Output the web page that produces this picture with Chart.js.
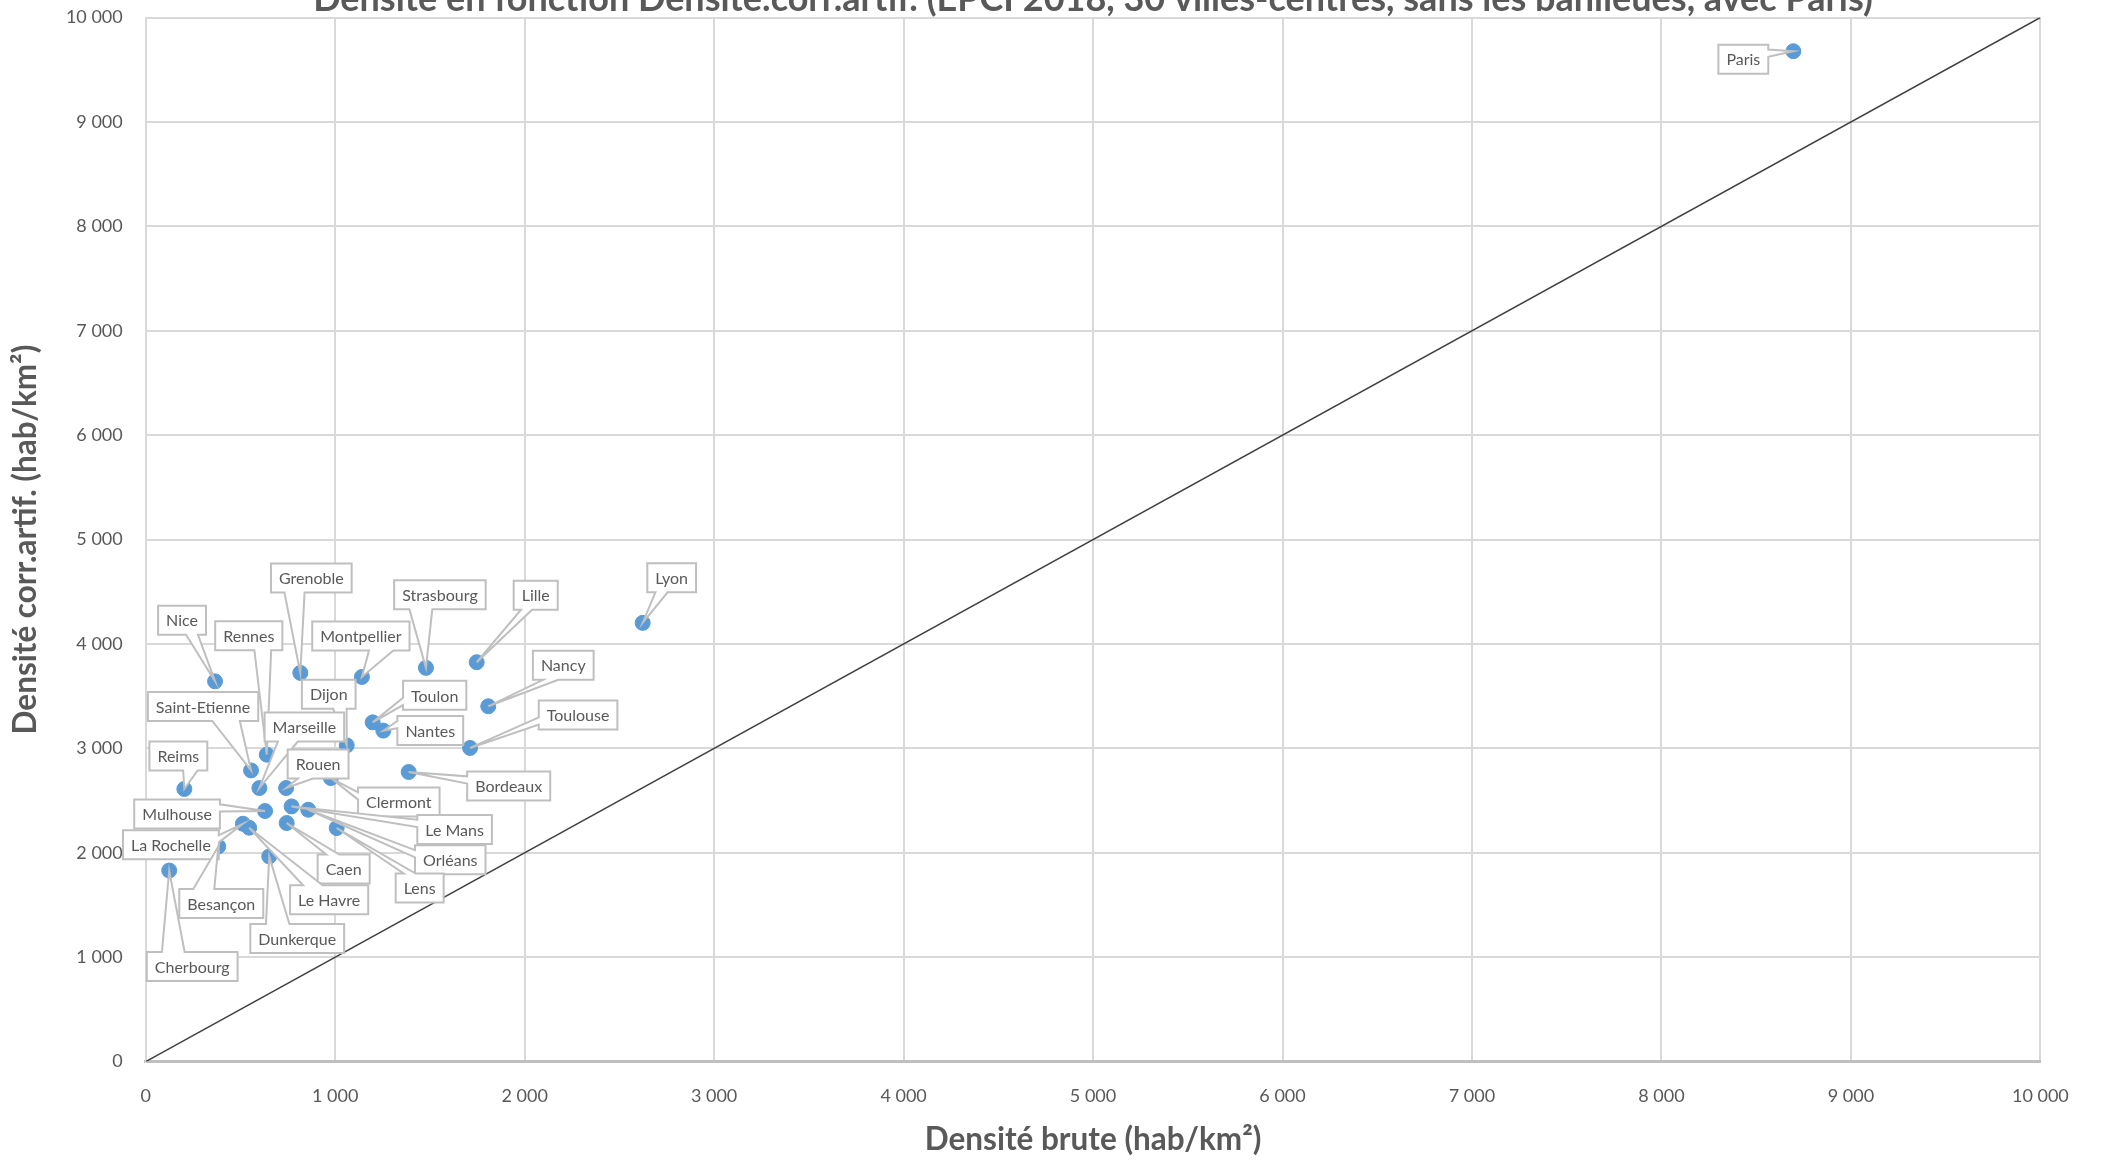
<!DOCTYPE html>
<html>
<head>
<meta charset="utf-8">
<script src="https://cdn.jsdelivr.net/npm/chart.js@4.4.0/dist/chart.umd.min.js"></script>
<style>
  html, body { margin: 0; padding: 0; background: #fff; overflow: hidden; }
  /* canvas shifted up so the title is cut by the top edge like in the original export */
  #wrap { position: absolute; left: 0; top: -40px; width: 2102px; height: 1201px; }
</style>
</head>
<body>
<div id="wrap"><canvas id="myChart"></canvas></div>
<script>
var cities = ["Paris", "Lyon", "Lille", "Strasbourg", "Grenoble", "Nice", "Montpellier", "Nancy",
  "Toulon", "Nantes", "Dijon", "Toulouse", "Rennes", "Saint-Etienne", "Bordeaux", "Clermont",
  "Marseille", "Rouen", "Reims", "Mulhouse", "Le Mans", "Orléans", "Lens", "Caen",
  "La Rochelle", "Le Havre", "Besançon", "Dunkerque", "Cherbourg"];

// Densité brute (hab/km²)
var densiteBrute = [8696, 2623, 1747, 1479, 816, 366, 1141, 1808,
  1198, 1254, 1061, 1712, 639, 556, 1388, 977,
  600, 741, 204, 630, 770, 858, 1008, 744,
  513, 546, 383, 652, 124];

// Densité corr.artif. (hab/km²)
var densiteCorr = [9677, 4202, 3825, 3771, 3723, 3642, 3684, 3403,
  3249, 3170, 3029, 3004, 2940, 2789, 2774, 2716,
  2620, 2620, 2611, 2400, 2444, 2412, 2237, 2285,
  2278, 2240, 2060, 1965, 1830];

// reference line y = x
var diagonal = [0, 10000];

// where each callout box sits, relative to its point (px)
var labelOffsets = [[-50, 8], [29, -45], [59, -67], [14, -73], [11, -95], [-33, -61], [-1, -41], [75, -41],
  [62, -27], [47, 0], [-18, -51], [108, -33], [-18, -119], [-48, -64], [100, 14], [68, 24],
  [45, -61], [32, -24], [-6, -33], [-88, 3], [163, 23], [142, 50], [83, 60], [57, 46],
  [-72, 21], [80, 72], [3, 57], [28, 82], [23, 96]];

var points = densiteBrute.map(function(x, i) { return { x: x, y: densiteCorr[i] }; });

function fmt(v) {
  return String(v).replace(/\B(?=(\d{3})+(?!\d))/g, ' ');
}

// Excel-style wedge callouts (wedgeRectCallout)
var calloutLabels = {
  id: 'calloutLabels',
  afterDatasetsDraw: function(chart) {
    var ctx = chart.ctx;
    var meta = chart.getDatasetMeta(0);
    ctx.save();
    ctx.font = '16px Lato';
    meta.data.forEach(function(pt, i) {
      var text = cities[i];
      var w = ctx.measureText(text).width + 16;
      var h = 29;
      var cx = pt.x + labelOffsets[i][0];
      var cy = pt.y + labelOffsets[i][1];
      var l = cx - w / 2, t = cy - h / 2, r = cx + w / 2, b = cy + h / 2;
      var dxPos = pt.x - cx, dyPos = pt.y - cy;
      var x1 = l + w * (dxPos > 0 ? 7 : 2) / 12, x2 = l + w * (dxPos > 0 ? 10 : 5) / 12;
      var y1 = t + h * (dyPos > 0 ? 7 : 2) / 12, y2 = t + h * (dyPos > 0 ? 10 : 5) / 12;
      var vertical = Math.abs(dyPos / h) > Math.abs(dxPos / w);

      ctx.beginPath();
      ctx.moveTo(l, t);
      if (vertical && dyPos < 0) { ctx.lineTo(x1, t); ctx.lineTo(pt.x, pt.y); ctx.lineTo(x2, t); }
      ctx.lineTo(r, t);
      if (!vertical && dxPos > 0) { ctx.lineTo(r, y1); ctx.lineTo(pt.x, pt.y); ctx.lineTo(r, y2); }
      ctx.lineTo(r, b);
      if (vertical && dyPos > 0) { ctx.lineTo(x2, b); ctx.lineTo(pt.x, pt.y); ctx.lineTo(x1, b); }
      ctx.lineTo(l, b);
      if (!vertical && dxPos < 0) { ctx.lineTo(l, y2); ctx.lineTo(pt.x, pt.y); ctx.lineTo(l, y1); }
      ctx.closePath();
      ctx.fillStyle = '#ffffff';
      ctx.fill();
      ctx.strokeStyle = '#bfbfbf';
      ctx.lineWidth = 2;
      ctx.stroke();

      ctx.fillStyle = '#595959';
      ctx.textAlign = 'center';
      ctx.textBaseline = 'middle';
      ctx.fillText(text, cx, cy + 1);
    });
    ctx.restore();
  }
};

var ctx = document.getElementById('myChart').getContext('2d');
var myChart = new Chart(ctx, {
  type: 'scatter',
  data: {
    datasets: [{
      label: 'Villes',
      data: points,
      backgroundColor: '#5b9bd5',
      borderColor: '#5b9bd5',
      borderWidth: 1,
      pointRadius: 7.5
    }, {
      label: 'y = x',
      type: 'line',
      data: diagonal.map(function(v) { return { x: v, y: v }; }),
      borderColor: '#404040',
      borderWidth: 1.5,
      pointRadius: 0,
      fill: false
    }]
  },
  options: {
    responsive: true,
    maintainAspectRatio: false,
    devicePixelRatio: 1,
    animation: false,
    events: [],
    layout: { padding: { top: 0, right: 61.6, bottom: 0, left: 0 } },
    plugins: {
      legend: { display: false },
      tooltip: { enabled: false },
      title: {
        display: true,
        fullSize: false, // centre over the plot area, not the whole canvas
        text: 'Densité en fonction Densité.corr.artif. (EPCI 2018, 30 villes-centres, sans les banlieues, avec Paris)',
        color: '#595959',
        font: { family: 'Lato', size: 36, weight: 'bold', lineHeight: 1 },
        padding: { top: 21, bottom: 0.5 }
      }
    },
    scales: {
      x: {
        type: 'linear',
        min: 0,
        max: 10000,
        ticks: { stepSize: 1000, padding: 24, color: '#595959', font: { family: 'Lato', size: 18 }, callback: fmt, maxRotation: 0, autoSkip: false },
        grid: { color: '#d9d9d9', lineWidth: 2, drawTicks: false },
        border: { color: '#bfbfbf', width: 3 },
        title: {
          display: true,
          text: 'Densité brute (hab/km²)',
          color: '#595959',
          font: { family: 'Lato', size: 31.5, weight: 'bold' },
          padding: { top: 0, bottom: 2.6 }
        },
        afterFit: function(scale) { scale.height = 99.4; }
      },
      y: {
        type: 'linear',
        min: 0,
        max: 10000,
        ticks: { stepSize: 1000, padding: 23, color: '#595959', font: { family: 'Lato', size: 18 }, callback: fmt, autoSkip: false },
        grid: { color: '#d9d9d9', lineWidth: 2, drawTicks: false },
        border: { color: '#d9d9d9', width: 2 },
        title: {
          display: true,
          text: 'Densité corr.artif. (hab/km²)',
          color: '#595959',
          font: { family: 'Lato', size: 31.5, weight: 'bold' },
          padding: { top: 6.6, bottom: 0 }
        },
        afterFit: function(scale) { scale.width = 145.7; }
      }
    }
  },
  plugins: [calloutLabels]
});
</script>
</body>
</html>
